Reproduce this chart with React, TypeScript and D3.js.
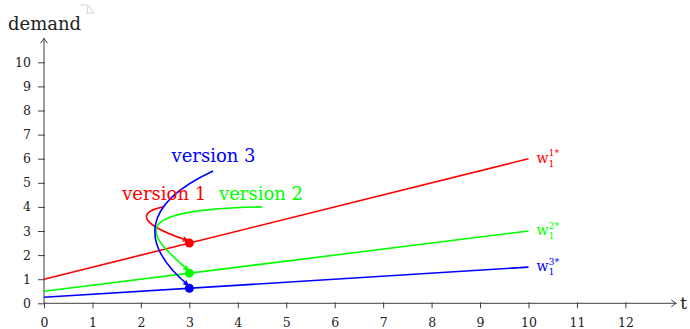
import React, { useEffect, useRef } from 'react';
import * as d3 from 'd3';

// demand lines w_1^{k*}(t) = a + b t, drawn from t = 0 to 10
const lineStarts = [1, 0.5, 0.25];
const lineEnds = [6, 3, 1.5];
const lineColors = ['#ff0000', '#00ff00', '#0000ff'];
const lineLabels = ['1*', '2*', '3*'];
const tEnd = 10;

// points at t = 3
const dotT = 3;
const dotValues = [2.5, 1.25, 0.625];

// annotation texts and their anchor points (data units)
const versionNames = ['version 1', 'version 2', 'version 3'];
const versionAnchors = [[2.48, 4.3], [4.48, 4.3], [3.5, 5.85]];
// cubic bezier arrows: start, c1, c2 (end = dot)
const arrowPaths = [
  [[2.46, 4.0], [1.77, 3.7], [2.19, 3.12]],
  [[4.5, 4.0], [1.57, 3.88], [2.15, 2.83]],
  [[3.49, 5.49], [1.98, 4.08], [1.98, 2.42]],
];

const xTicks = d3.range(0, 13);
const yTicks = d3.range(0, 11);

const App = () => {
  const svgRef = useRef<SVGSVGElement>(null);

  useEffect(() => {
    const svg = d3.select(svgRef.current);
    svg.selectAll('*').remove();
    const font = "'DejaVu Serif', serif";
    const axisColor = '#404040';

    const x = d3.scaleLinear().domain([0, 12]).range([44, 625.4]);
    const y = d3.scaleLinear().domain([0, 10]).range([303.3, 62.3]);

    const defs = svg.append('defs');
    defs.append('marker')
      .attr('id', 'axarrow')
      .attr('viewBox', '-8 -5 10 10')
      .attr('refX', 0).attr('refY', 0)
      .attr('markerWidth', 10).attr('markerHeight', 10)
      .attr('markerUnits', 'userSpaceOnUse')
      .attr('orient', 'auto')
      .append('path')
      .attr('d', 'M-5,-3.5 Q-1.5,-0.6 0,0 Q-1.5,0.6 -5,3.5')
      .attr('fill', 'none')
      .attr('stroke', axisColor)
      .attr('stroke-width', 1);

    lineColors.forEach((c, i) => {
      defs.append('marker')
        .attr('id', `tip${i}`)
        .attr('viewBox', '-8 -4 10 8')
        .attr('refX', 0).attr('refY', 0)
        .attr('markerWidth', 10).attr('markerHeight', 8)
        .attr('markerUnits', 'userSpaceOnUse')
        .attr('orient', 'auto')
        .append('path')
        .attr('d', 'M-7,-3 L0,0 L-7,3 L-5.5,0 Z')
        .attr('fill', c);
    });

    // axes
    const gx = svg.append('g').attr('transform', `translate(0,${y(0)})`)
      .call(d3.axisBottom(x).tickValues(xTicks).tickSize(5).tickPadding(10).tickSizeOuter(0));
    gx.select('.domain').remove();
    gx.selectAll('line').attr('y1', -1).attr('stroke', axisColor);
    gx.selectAll('text').style('font-family', font).attr('font-size', 12.5).attr('fill', '#222');

    const gy = svg.append('g').attr('transform', `translate(${x(0)},0)`)
      .call(d3.axisLeft(y).tickValues(yTicks).tickSize(6).tickPadding(7).tickSizeOuter(0));
    gy.select('.domain').remove();
    gy.selectAll('line').attr('x1', 1).attr('stroke', axisColor);
    gy.selectAll('text').style('font-family', font).attr('font-size', 12.5).attr('fill', '#222');

    svg.append('line')
      .attr('x1', x(0)).attr('x2', x(13.05)).attr('y1', y(0)).attr('y2', y(0))
      .attr('stroke', axisColor).attr('marker-end', 'url(#axarrow)');
    svg.append('line')
      .attr('x1', x(0)).attr('x2', x(0)).attr('y1', y(0)).attr('y2', y(11))
      .attr('stroke', axisColor).attr('marker-end', 'url(#axarrow)');

    svg.append('text').attr('x', 8).attr('y', 30).text('demand')
      .style('font-family', font).attr('font-size', 18).attr('fill', '#222');
    svg.append('text').attr('x', x(13.05) + 4).attr('y', y(0) + 6).text('t')
      .style('font-family', font).attr('font-size', 17).attr('fill', '#222');

    // small light-gray mark beside the y label
    svg.append('path')
      .attr('d', 'M80,5 L88,5 L94,13 L86,13 M88,5 L87,13')
      .attr('fill', 'none').attr('stroke', '#c8c8c8').attr('stroke-width', 0.8);

    // demand lines
    lineColors.forEach((c, i) => {
      svg.append('line')
        .attr('x1', x(0)).attr('y1', y(lineStarts[i]))
        .attr('x2', x(tEnd)).attr('y2', y(lineEnds[i]))
        .attr('stroke', c).attr('stroke-width', 1.6);
      const lab = svg.append('text')
        .attr('x', x(tEnd) + 8).attr('y', y(lineEnds[i]) + 4)
        .style('font-family', font).attr('font-size', 14).attr('fill', c);
      lab.append('tspan').text('w');
      lab.append('tspan').attr('font-size', 9.5).attr('dy', 4).text('1');
      lab.append('tspan').attr('font-size', 9.5).attr('dx', -6).attr('dy', -10.5).text(lineLabels[i]);
    });

    // curved arrows
    arrowPaths.forEach((p, i) => {
      const path = d3.path();
      path.moveTo(x(p[0][0]), y(p[0][1]));
      path.bezierCurveTo(x(p[1][0]), y(p[1][1]), x(p[2][0]), y(p[2][1]), x(dotT), y(dotValues[i]) - 2);
      svg.append('path')
        .attr('d', path.toString())
        .attr('fill', 'none')
        .attr('stroke', lineColors[i])
        .attr('stroke-width', 1.6)
        .attr('marker-end', `url(#tip${i})`);
    });

    // dots
    svg.append('g').selectAll('circle')
      .data(dotValues)
      .join('circle')
      .attr('cx', x(dotT))
      .attr('cy', d => y(d))
      .attr('r', 4.5)
      .attr('fill', (d, i) => lineColors[i]);

    // version labels
    svg.append('g').selectAll('text')
      .data(versionNames)
      .join('text')
      .attr('x', (d, i) => x(versionAnchors[i][0]))
      .attr('y', (d, i) => y(versionAnchors[i][1]))
      .attr('text-anchor', 'middle')
      .style('font-family', font)
      .attr('font-size', 18)
      .attr('fill', (d, i) => lineColors[i])
      .text(d => d);
  }, []);

  return (
    <svg ref={svgRef} width="690" height="329"
      style={{ position: 'absolute', left: 0, top: 0, background: '#fff' }}></svg>
  );
};

export default App;
